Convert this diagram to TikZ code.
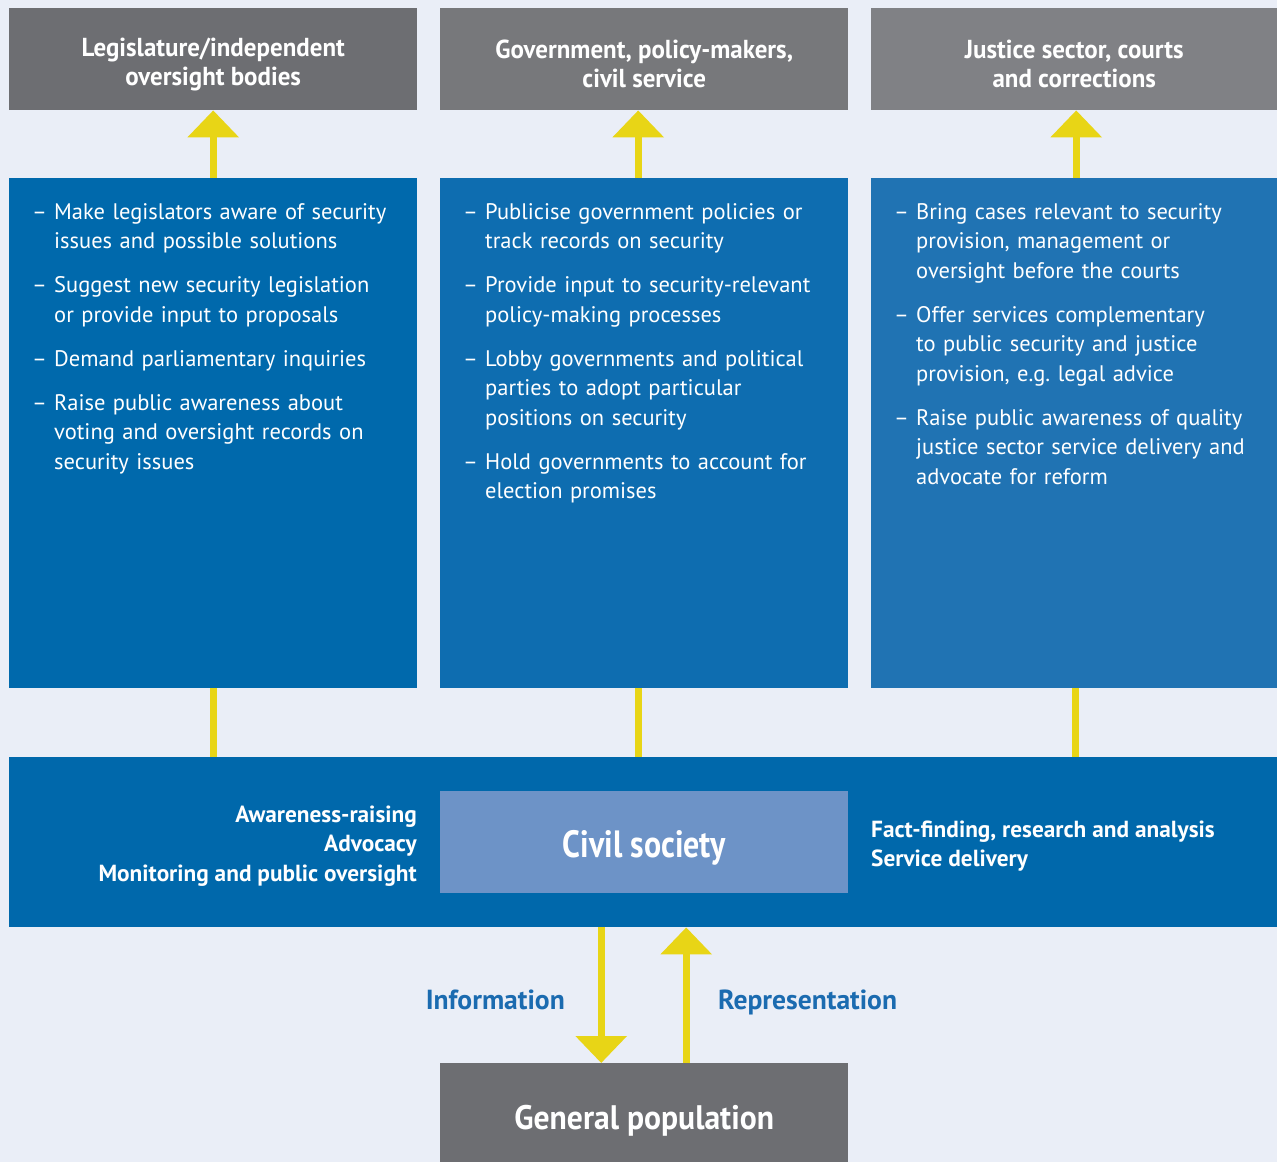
\documentclass[tikz,border=0pt]{standalone}
\usepackage{fontspec}
\setmainfont{PT Sans}
\newfontfamily\headfont[FakeStretch=0.96]{PT Sans}
\newfontfamily\civfont[FakeStretch=0.84]{PT Sans}
\newfontfamily\popfont[FakeStretch=0.93]{PT Sans}
\usetikzlibrary{arrows.meta}
\definecolor{bgc}{HTML}{EAEEF7}
\definecolor{grayA}{HTML}{6D6E72}
\definecolor{grayB}{HTML}{77787B}
\definecolor{grayC}{HTML}{808185}
\definecolor{blueA}{HTML}{0069AC}
\definecolor{blueB}{HTML}{0E6DB0}
\definecolor{blueC}{HTML}{2073B3}
\definecolor{blueband}{HTML}{0068AB}
\definecolor{civil}{HTML}{6D93C7}
\definecolor{yel}{HTML}{E8D516}
\definecolor{labelblue}{HTML}{1B6BB0}
\newcommand{\itm}[1]{\hangindent=22pt\hangafter=1\noindent\makebox[22pt][l]{–}#1}
\tikzset{
  bluebox/.style={anchor=north west, inner sep=0pt, minimum width=408, minimum height=510},
  grayrect/.style={anchor=north west, inner sep=0pt, minimum width=408, minimum height=102},
  headtext/.style={text=white, align=center, inner sep=0pt,
    font=\headfont\bfseries\fontsize{26}{29}\selectfont, yshift=-5pt},
  listtext/.style={anchor=north west, inner sep=0pt, text width=400pt, text=white,
    font=\fontsize{22.5}{29.5}\selectfont\setlength{\parskip}{14.5pt}\raggedright},
  uparrow/.style={draw=yel, line width=7pt, -{Triangle[width=50pt,length=27pt]}},
  conn/.style={draw=yel, line width=7pt},
  bandlabel/.style={inner sep=0pt, text=white, font=\bfseries\fontsize{23.3}{29.5}\selectfont},
  flowlabel/.style={inner sep=0pt, text=labelblue, font=\bfseries\fontsize{27.6}{30}\selectfont}
}
\begin{document}
\begin{tikzpicture}[x=1pt,y=-1pt]
\fill[bgc] (0,0) rectangle (1277,1162);
\useasboundingbox (0,0) rectangle (1277,1162);

% top gray boxes
\node[grayrect, fill=grayA] (g1) at (9,8) {};
\node[grayrect, fill=grayB] (g2) at (440,8) {};
\node[grayrect, fill=grayC, minimum width=406] (g3) at (871,8) {};
\node[headtext] (h1) at (g1) {Legislature/independent\\oversight bodies};
\node[headtext] (h2) at (g2) {Government, policy-makers,\\civil service};
\node[headtext] (h3) at (g3) {Justice sector, courts\\and corrections};

% blue boxes
\node[bluebox, fill=blueA] (b1) at (9,178) {};
\node[bluebox, fill=blueB] (b2) at (440,178) {};
\node[bluebox, fill=blueC, minimum width=406] (b3) at (871,178) {};

\node[listtext] (t1) at (32,203) {%
\itm{Make legislators aware of security\newline issues and possible solutions}\par
\itm{Suggest new security legislation\newline or provide input to proposals}\par
\itm{Demand parliamentary inquiries}\par
\itm{Raise public awareness about\newline voting and oversight records on\newline security issues}\par};

\node[listtext] (t2) at (463,203) {%
\itm{Publicise government policies or\newline track records on security}\par
\itm{Provide input to security-relevant\newline policy-making processes}\par
\itm{Lobby governments and political\newline parties to adopt particular\newline positions on security}\par
\itm{Hold governments to account for\newline election promises}\par};

\node[listtext] (t3) at (894,203) {%
\itm{Bring cases relevant to security\newline provision, management or\newline oversight before the courts}\par
\itm{Offer services complementary\newline to public security and justice\newline provision, e.g.\ legal advice}\par
\itm{Raise public awareness of quality\newline justice sector service delivery and\newline advocate for reform}\par};

% band
\node[anchor=north west, inner sep=0pt, minimum width=1268, minimum height=170, fill=blueband] (band) at (9,757) {};
\node[anchor=north west, inner sep=0pt, minimum width=408, minimum height=102, fill=civil] (cs) at (440,791) {};
\node[text=white, inner sep=0pt, font=\civfont\bfseries\fontsize{38}{40}\selectfont, yshift=-6pt] (cst) at (cs) {Civil society};

\node[bandlabel, anchor=east, align=right] (ll) at (417,846) {Awareness-raising\\Advocacy\\Monitoring and public oversight};
\node[bandlabel, anchor=west, align=left] (rl) at (871,846) {Fact-finding, research and analysis\\Service delivery};

% general population
\node[anchor=north west, inner sep=0pt, minimum width=408, minimum height=99, fill=grayA] (gp) at (440,1063) {};
\node[text=white, inner sep=0pt, font=\popfont\bfseries\fontsize{34}{40}\selectfont, yshift=-8pt] (gpt) at (gp) {General population};

% arrows top
\draw[uparrow] (b1.north) -- (g1.south);
\draw[uparrow] ([xshift=-6pt]b2.north) -- ([xshift=-6pt]g2.south);
\draw[uparrow] ([xshift=2pt]b3.north) -- ([xshift=2pt]g3.south);

% connectors to band
\draw[conn] (b1.south) -- (b1.south |- band.north);
\draw[conn] ([xshift=-6pt]b2.south) -- ([xshift=-6pt]b2.south |- band.north);
\draw[conn] ([xshift=1pt]b3.south) -- ([xshift=1pt]b3.south |- band.north);

% bottom arrows
\draw[uparrow] ([xshift=-43pt]gp.north |- band.south) -- ([xshift=-43pt]gp.north);
\draw[uparrow] ([xshift=42pt]gp.north) -- ([xshift=42pt]gp.north |- band.south);

\node[flowlabel, anchor=base east] (info) at (565,1009) {Information};
\node[flowlabel, anchor=base west] (rep) at (718,1009) {Representation};
\end{tikzpicture}
\end{document}
